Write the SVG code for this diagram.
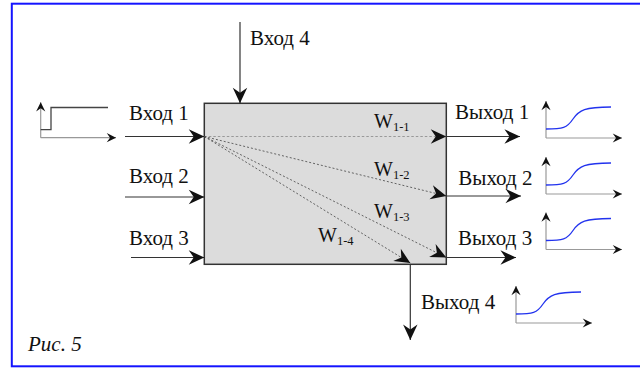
<svg xmlns="http://www.w3.org/2000/svg" width="640" height="369" viewBox="0 0 640 369">
<defs>
<marker id="ah" markerUnits="userSpaceOnUse" markerWidth="20" markerHeight="20" viewBox="-16 -8 18 16" refX="0" refY="0" orient="auto">
<path d="M0,0 L-14,-6.5 L-9.5,0 L-14,6.5 Z" fill="#111"/>
</marker>
<marker id="sa" markerUnits="userSpaceOnUse" markerWidth="12" markerHeight="12" viewBox="-10 -5 11 10" refX="0" refY="0" orient="auto">
<path d="M0,0 L-8.5,-4.2 L-5.5,0 L-8.5,4.2 Z" fill="#111"/>
</marker>
<g id="sig">
<line x1="0" y1="0" x2="0" y2="-37" class="ax" marker-end="url(#sa)"/>
<line x1="0" y1="0" x2="76" y2="0" class="ax" marker-end="url(#sa)"/>
<path d="M0,-9 C17,-9 21,-10 27,-19 C33,-28 39,-31 65,-31" fill="none" stroke="#2233ee" stroke-width="1.3"/>
</g>
</defs>
<style>
.t{font-family:"Liberation Serif","Times New Roman",serif;font-size:21px;fill:#111}
.w{font-family:"Liberation Serif","Times New Roman",serif;font-size:20px;fill:#111}
.sub{font-size:12.5px}
.ln{stroke:#333;stroke-width:1.2;fill:none}
.ax{stroke:#999;stroke-width:1.2;fill:none}
.d1{stroke:#999;stroke-width:1.1;stroke-dasharray:2.5,2;fill:none}
.d2{stroke:#444;stroke-width:0.8;stroke-dasharray:2,2;fill:none}
</style>
<rect x="11.8" y="3.7" width="640" height="362.6" fill="#fff" stroke="#1414ff" stroke-width="2"/>

<g id="block">
<rect x="204.3" y="103.3" width="242" height="161" fill="#dcdcdc" stroke="#333" stroke-width="1.5"/>
</g>

<g id="input-graph">
<line x1="40.7" y1="137.7" x2="40.7" y2="102.3" class="ax" marker-end="url(#sa)"/>
<line x1="40.7" y1="137.7" x2="116" y2="137.7" class="ax" marker-end="url(#sa)"/>
<path d="M40.7,129.7 H51 V107.5 H108" fill="none" stroke="#444" stroke-width="1.3"/>
</g>

<g id="out-graph-1"><use href="#sig" transform="translate(546,138)"/></g>
<g id="out-graph-2"><use href="#sig" transform="translate(546,194)"/></g>
<g id="out-graph-3"><use href="#sig" transform="translate(546,249.5)"/></g>
<g id="out-graph-4"><use href="#sig" transform="translate(516,323)"/></g>

<g id="connectors">
<line x1="240" y1="22" x2="240" y2="103.3" class="ln" marker-end="url(#ah)"/>
<line x1="125" y1="136.5" x2="204.3" y2="136.5" class="ln" marker-end="url(#ah)"/>
<line x1="125" y1="197" x2="204.3" y2="197" class="ln" marker-end="url(#ah)"/>
<line x1="131" y1="257.5" x2="204.3" y2="257.5" class="ln" marker-end="url(#ah)"/>
<line x1="446.3" y1="136.5" x2="520" y2="136.5" class="ln" marker-end="url(#ah)"/>
<line x1="446.3" y1="196" x2="521" y2="196" class="ln" marker-end="url(#ah)"/>
<line x1="446.3" y1="257.5" x2="516" y2="257.5" class="ln" marker-end="url(#ah)"/>
<line x1="410.3" y1="264" x2="410.3" y2="340" class="ln" marker-end="url(#ah)"/>
<line x1="204.3" y1="136.5" x2="446.3" y2="136.5" class="d1" marker-end="url(#ah)"/>
<line x1="204.3" y1="136.5" x2="446.3" y2="196" class="d2" marker-end="url(#ah)"/>
<line x1="204.3" y1="136.5" x2="446.3" y2="257.5" class="d2" marker-end="url(#ah)"/>
<line x1="204.3" y1="136.5" x2="410.3" y2="263" class="d2" marker-end="url(#ah)"/>
</g>

<g id="labels">
<text class="t" x="250" y="45">Вход 4</text>
<text class="t" x="129" y="120">Вход 1</text>
<text class="t" x="129" y="183">Вход 2</text>
<text class="t" x="129" y="245">Вход 3</text>
<text class="t" x="455" y="119">Выход 1</text>
<text class="t" x="458.3" y="185">Выход 2</text>
<text class="t" x="458" y="245">Выход 3</text>
<text class="t" x="421" y="309">Выход 4</text>
<text class="w" x="374" y="128">W<tspan class="sub" dy="3">1-1</tspan></text>
<text class="w" x="374" y="176">W<tspan class="sub" dy="3">1-2</tspan></text>
<text class="w" x="374" y="218">W<tspan class="sub" dy="3">1-3</tspan></text>
<text class="w" x="318" y="242">W<tspan class="sub" dy="3">1-4</tspan></text>
<text class="t" x="28" y="351" font-style="italic" font-size="25">Рис. 5</text>
</g>
</svg>
